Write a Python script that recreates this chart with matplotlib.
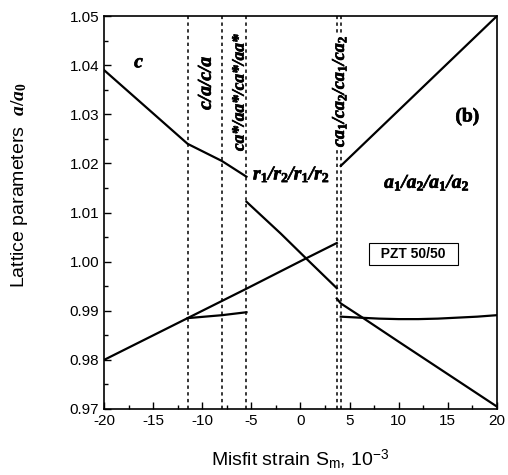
import numpy as np
import matplotlib.pyplot as plt
import matplotlib.patheffects as pe
from matplotlib.ticker import MultipleLocator

plt.rcParams['font.family'] = ['Liberation Sans', 'DejaVu Sans']
plt.rcParams['axes.unicode_minus'] = False
plt.rcParams['mathtext.fontset'] = 'custom'
plt.rcParams['mathtext.it'] = 'Liberation Serif:bold:italic'
plt.rcParams['mathtext.bf'] = 'Liberation Serif:bold'
plt.rcParams['mathtext.rm'] = 'Liberation Serif:bold'

# phase boundaries (misfit strain, 1e-3)
boundaries = [-11.5, -8.0, -5.5, 3.7, 4.1]

# c branch (c, c/a, ca*/aa* phases)
c_x = [-20, -11.5, -8.0, -5.5]
c_y = [1.0390, 1.0240, 1.0205, 1.0173]

# rising a branch
a_x = [-20, -11.5, -5.5, 0.4, 3.7]
a_y = [0.9800, 0.9885, 0.9945, 1.0005, 1.0038]

# lower branch of the c/a and ca* phases
low1_x = [-11.5, -8.0, -5.5]
low1_y = [0.9885, 0.9891, 0.9897]

# r phase falling branch
r_x = [-5.5, -2.0, 0.4, 3.7]
r_y = [1.0122, 1.0057, 1.0010, 0.9946]

# ca1/ca2 and a1/a2 upper branch
up_x = [4.1, 20]
up_y = [1.0195, 1.0500]

# falling branch after ca1 phase
fall_x = [3.7, 4.1, 6.4, 10, 15, 20]
fall_y = [0.9925, 0.9915, 0.9885, 0.9837, 0.9771, 0.9705]

# flat lower branch
flat_x = [4.1, 6, 8, 10, 12, 14, 16, 18, 20]
flat_y = [0.9888, 0.9886, 0.9884, 0.9883, 0.9883, 0.9884, 0.9886, 0.9888, 0.9891]

fig = plt.figure(figsize=(5.08, 4.75), dpi=100)
ax = fig.add_axes([0.205, 0.139, 0.773, 0.827])

for b in boundaries:
    ax.axvline(b, color='black', lw=1.1, ls=(0, (2.2, 2.2)), zorder=1)

for xs, ys in [(c_x, c_y), (a_x, a_y), (low1_x, low1_y), (r_x, r_y),
               (up_x, up_y), (fall_x, fall_y), (flat_x, flat_y)]:
    ax.plot(xs, ys, color='black', lw=1.6, zorder=3)

ax.set_xlim(-20, 20)
ax.set_ylim(0.97, 1.05)
ax.xaxis.set_major_locator(MultipleLocator(5))
ax.xaxis.set_minor_locator(MultipleLocator(2.5))
ax.yaxis.set_major_locator(MultipleLocator(0.01))
ax.yaxis.set_minor_locator(MultipleLocator(0.005))
ax.yaxis.set_major_formatter(plt.FormatStrFormatter('%.2f'))
ax.tick_params(direction='in', which='both', labelsize=11, top=False, right=False)
ax.tick_params(which='major', length=5, width=1)
ax.tick_params(which='minor', length=3, width=1)
for s in ax.spines.values():
    s.set_linewidth(1.2)

ax.set_xlabel(r'Misfit strain S$_\mathregular{m}$, 10$^\mathregular{-3}$', fontsize=14, labelpad=14)
ax.set_ylabel(r'Lattice parameters  $a/a_0$', fontsize=14)
ax.yaxis.set_label_coords(-0.19, 0.57)

# phase labels, slightly thickened to match the heavy print
thick = [pe.withStroke(linewidth=0.5, foreground='black')]
serif = dict(family='Liberation Serif', fontweight='bold', fontstyle='italic', path_effects=thick)
ax.text(-16.5, 1.0405, 'c', ha='center', va='center', fontsize=14, **serif)
ax.text(-9.6, 1.0363, 'c/a/c/a', rotation=90, ha='center', va='center', fontsize=14, **serif)
ax.text(-6.2, 1.0345, 'ca*/aa*/ca*/aa*', rotation=90, ha='center', va='center', fontsize=12.5, **serif)
ax.text(-0.9, 1.0178, r'r$_\mathbf{1}$/r$_\mathbf{2}$/r$_\mathbf{1}$/r$_\mathbf{2}$',
        ha='center', va='center', fontsize=14, **serif)
ax.text(3.9, 1.0347, r'ca$_\mathbf{1}$/ca$_\mathbf{2}$/ca$_\mathbf{1}$/ca$_\mathbf{2}$',
        rotation=90, ha='center', va='center', zorder=4, fontsize=13,
        bbox=dict(fc='white', ec='none', pad=0.5), **serif)
ax.text(12.9, 1.0161, r'a$_\mathbf{1}$/a$_\mathbf{2}$/a$_\mathbf{1}$/a$_\mathbf{2}$',
        ha='center', va='center', fontsize=14, **serif)
ax.text(17.0, 1.0295, '(b)', ha='center', va='center', family='Liberation Serif',
        fontweight='bold', fontsize=14, path_effects=thick)
ax.text(11.5, 1.0016, '  PZT 50/50  ', ha='center', va='center', fontsize=10, fontweight='bold',
        bbox=dict(fc='white', ec='black', lw=0.8, boxstyle='square,pad=0.3'))

fig.savefig('out.png', dpi=100)
